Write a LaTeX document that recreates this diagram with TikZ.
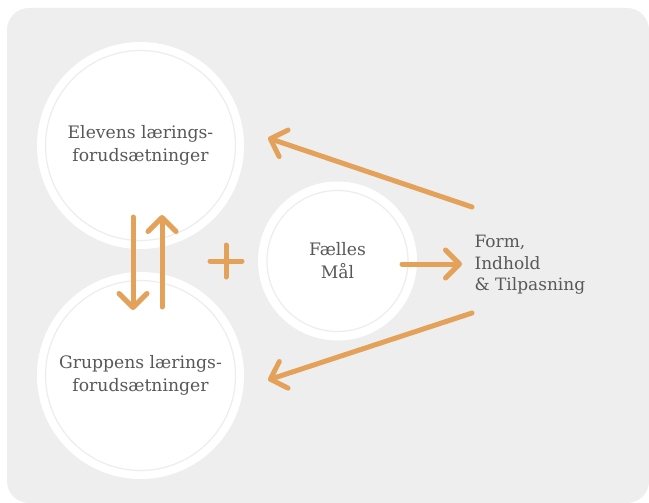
\documentclass[tikz,border=0pt]{standalone}
\usepackage{fontspec}
\setmainfont{DejaVu Serif}
\usepackage{xcolor}
\usetikzlibrary{arrows.meta}

\definecolor{bggray}{HTML}{EEEEEE}
\definecolor{ringgray}{HTML}{EDEDED}
\definecolor{txtgray}{HTML}{585858}
\definecolor{tan}{HTML}{E3A15A}

\tikzset{
  bigdisc/.style={circle, fill=white, minimum size=207pt, inner sep=0pt, align=center,
    text=txtgray, font=\fontsize{17.2}{23}\selectfont},
  middisc/.style={circle, fill=white, minimum size=159pt, inner sep=0pt, align=center,
    text=txtgray, font=\fontsize{17.2}{23}\selectfont},
  ring/.style={draw=ringgray, line width=1.2pt},
  tanarrow/.style={draw=tan, line width=5pt, line cap=round, line join=round,
    -{Straight Barb[length=14pt, width=28pt, line cap=round, line join=round]}},
  tanline/.style={draw=tan, line width=5pt, line cap=round}
}

\begin{document}
\begin{tikzpicture}[x=1pt, y=-1pt]
    \useasboundingbox (0,0) rectangle (649,503);
    \fill[white] (0,0) rectangle (649,503);
    \fill[bggray, rounded corners=22pt] (7,8) rectangle (649,503);

    % circles
    \node[bigdisc] (elev) at (140.5,145.5) {Elevens lærings-\\forudsætninger};
    \node[bigdisc] (grup) at (140.5,375.5) {Gruppens lærings-\\forudsætninger};
    \node[middisc] (maal) at (337.5,261) {Fælles\\Mål};
    \draw[ring] (elev.center) circle (95);
    \draw[ring] (grup.center) circle (95);
    \draw[ring] (maal.center) circle (70.5);

    \node[anchor=west, align=left, text=txtgray, font=\fontsize{17}{21.5}\selectfont]
        (form) at (471,265) {Form,\\Indhold\\\& Tilpasning};

    % arrow ends
    \coordinate (formtop) at (472,207);
    \coordinate (formbot) at (472,313);
    \coordinate (elevtip) at (268,138);
    \coordinate (gruptip) at (268,380);
    \coordinate (maalout) at (402,264);
    \coordinate (formin) at (462,264);
    \coordinate (downtop) at (133,217);
    \coordinate (downbot) at (133,310);
    \coordinate (upbot) at (162,307);
    \coordinate (uptop) at (162,215);
    \coordinate (plus) at (226,261);

    \draw[tanarrow] (formtop) -- (elevtip);
    \draw[tanarrow] (formbot) -- (gruptip);
    \draw[tanarrow] (maalout) -- (formin);
    \draw[tanarrow] (downtop) -- (downbot);
    \draw[tanarrow] (upbot) -- (uptop);

    \draw[tanline] ([xshift=-16pt]plus) -- ([xshift=16pt]plus);
    \draw[tanline] ([yshift=-16pt]plus) -- ([yshift=16pt]plus);
\end{tikzpicture}
\end{document}
